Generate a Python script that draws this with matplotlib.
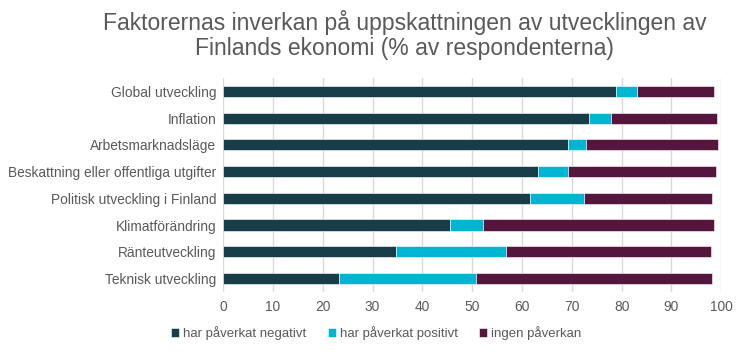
import matplotlib.pyplot as plt
import numpy as np

plt.rcParams['font.family'] = ['Liberation Sans', 'DejaVu Sans']

categories = ["Global utveckling", "Inflation", "Arbetsmarknadsläge",
              "Beskattning eller offentliga utgifter", "Politisk utveckling i Finland",
              "Klimatförändring", "Ränteutveckling", "Teknisk utveckling"]
negativ = [78.8, 73.4, 69.3, 63.3, 61.5, 45.5, 34.6, 23.2]
positiv = [4.3, 4.5, 3.5, 5.9, 11.0, 6.6, 22.1, 27.6]
ingen = [15.4, 21.2, 26.5, 29.7, 25.6, 46.4, 41.3, 47.3]
series = ["har påverkat negativt", "har påverkat positivt", "ingen påverkan"]
colors = ["#173d48", "#00b5d1", "#55153d"]

fig = plt.figure(figsize=(7.49, 3.55), dpi=100)
ax = fig.add_axes([0.298, 0.178, 0.665, 0.602])

y = np.arange(len(categories))
left = np.zeros(len(categories))
for vals, name, c in zip([negativ, positiv, ingen], series, colors):
    ax.barh(y, vals, left=left, height=0.42, color=c, label=name,
            edgecolor="white", linewidth=0.4)
    left += np.array(vals)

ax.set_ylim(len(categories) - 0.5, -0.5)
ax.set_xlim(0, 100)
ax.set_xticks(range(0, 101, 10))
ax.set_yticks(y)
ax.set_yticklabels(categories)
ax.xaxis.grid(True, color="#d9d9d9", linewidth=1)
ax.set_axisbelow(True)
for s in ax.spines.values():
    s.set_visible(False)
ax.tick_params(axis="both", length=0, labelsize=9.9, colors="#595959")
ax.tick_params(axis="x", pad=6)
ax.tick_params(axis="y", pad=5)

fig.suptitle("Faktorernas inverkan på uppskattningen av utvecklingen av\nFinlands ekonomi (% av respondenterna)",
             x=0.54, y=0.972, fontsize=16.5, color="#595959", linespacing=1.1)

ax.legend(loc="upper center", bbox_to_anchor=(0.307, -0.105), ncol=3, frameon=False,
          fontsize=9.5, labelcolor="#595959", handlelength=0.6, handleheight=0.6,
          handletextpad=0.3, columnspacing=1.65)

fig.savefig("out.png", dpi=100)
